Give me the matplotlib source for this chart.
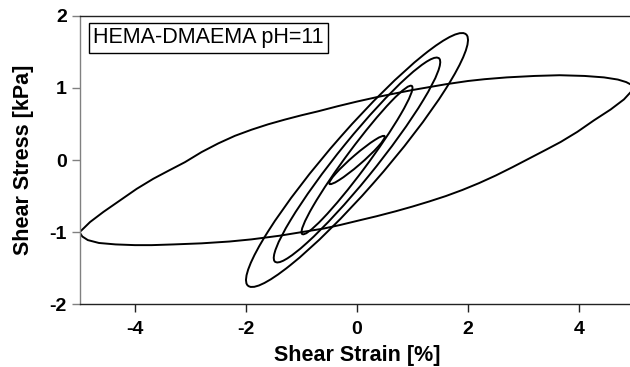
import numpy as np
import matplotlib
matplotlib.use('Agg')
import matplotlib.pyplot as plt
from matplotlib.patches import Ellipse

plt.rcParams['font.family'] = ['Liberation Sans', 'DejaVu Sans']

# small strain loops (close to ellipses): strain amplitude [%], stress amplitude [kPa], phase lag [deg]
loop_strain_amp = [0.5, 1.0, 1.5, 2.0]
loop_stress_amp = [0.335, 1.03, 1.42, 1.76]
loop_phase_deg = [16, 14, 17, 19]

# 5 % loop
big_lower_strain = [-5.00, -4.95, -4.85, -4.65, -4.35, -4.00, -3.70, -3.30, -2.80, -2.30, -1.90,
                    -1.40, -1.00, -0.60, -0.30, 0.05, 0.35, 0.70, 1.00, 1.30, 1.60, 1.90, 2.20,
                    2.50, 2.80, 3.10, 3.40, 3.67, 3.97, 4.27, 4.57, 4.81, 4.93, 5.00]
big_lower_stress = [-1.00, -1.06, -1.11, -1.15, -1.17, -1.18, -1.18, -1.17, -1.155, -1.13, -1.10,
                    -1.05, -1.00, -0.95, -0.90, -0.835, -0.78, -0.71, -0.645, -0.575, -0.50, -0.415,
                    -0.32, -0.215, -0.10, 0.02, 0.14, 0.25, 0.39, 0.55, 0.70, 0.84, 0.94, 1.00]
big_upper_strain = [5.00, 4.95, 4.85, 4.70, 4.45, 4.10, 3.65, 3.20, 2.70, 2.30, 2.00, 1.60, 1.00,
                    0.70, 0.35, 0.00, -0.35, -0.70, -1.00, -1.30, -1.60, -1.90, -2.20, -2.50, -2.80,
                    -3.10, -3.40, -3.67, -3.97, -4.27, -4.57, -4.81, -4.93, -5.00]
big_upper_stress = [1.00, 1.04, 1.08, 1.115, 1.145, 1.165, 1.175, 1.165, 1.145, 1.12, 1.095, 1.05,
                    0.97, 0.925, 0.87, 0.81, 0.745, 0.675, 0.62, 0.56, 0.495, 0.42, 0.335, 0.23,
                    0.11, -0.03, -0.15, -0.26, -0.40, -0.56, -0.72, -0.86, -0.95, -1.00]

xticks = [-4, -2, 0, 2, 4]
yticks = [-2, -1, 0, 1, 2]
label = 'HEMA-DMAEMA pH=11'

fig = plt.figure(figsize=(6.3, 3.67), dpi=100)
ax = fig.add_axes([79.5 / 630, 1 - 304.3 / 367, 555 / 630, 288.6 / 367])

lw = 1.4
for A, B, d in zip(loop_strain_amp, loop_stress_amp, loop_phase_deg):
    c = A * B * np.cos(np.radians(d))
    m = np.array([[A * A, c], [c, B * B]])
    vals, vecs = np.linalg.eigh(m)
    ang = np.degrees(np.arctan2(vecs[1, 1], vecs[0, 1]))
    e = Ellipse((0, 0), 2 * np.sqrt(vals[1]), 2 * np.sqrt(vals[0]), angle=ang,
                fill=False, ec='black', lw=lw)
    ax.add_patch(e)

bx = big_lower_strain + big_upper_strain[1:]
by = big_lower_stress + big_upper_stress[1:]
ax.plot(bx, by, color='black', lw=lw, solid_joinstyle='round')

ax.set_xlim(-5, 5)
ax.set_ylim(-2, 2)
ax.set_xticks(xticks)
ax.set_yticks(yticks)
ax.set_xticklabels([str(v) for v in xticks], fontweight='bold', fontsize=14)
ax.set_yticklabels([str(v) for v in yticks], fontweight='bold', fontsize=14)
ax.tick_params(direction='out', length=6, width=1)
ax.tick_params(axis='x', pad=6, colors='#222222', labelcolor='black')
ax.tick_params(axis='y', pad=3, colors='#808080', labelcolor='black')

ax.spines['right'].set_visible(False)
ax.spines['left'].set_color('#808080')
ax.spines['bottom'].set_color('#222222')
ax.spines['top'].set_color('#222222')
for s in ax.spines.values():
    s.set_linewidth(1)

ax.set_xlabel('Shear Strain [%]', fontweight='bold', fontsize=15.5, labelpad=5)
ax.set_ylabel('Shear Stress [kPa]', fontweight='bold', fontsize=15.5, labelpad=11)

ax.text(0.025, 0.96, label, transform=ax.transAxes, fontsize=15.5, va='top', ha='left',
        bbox=dict(boxstyle='square,pad=0.2', fc='white', ec='black', lw=1))

fig.savefig('out.png', dpi=100)
